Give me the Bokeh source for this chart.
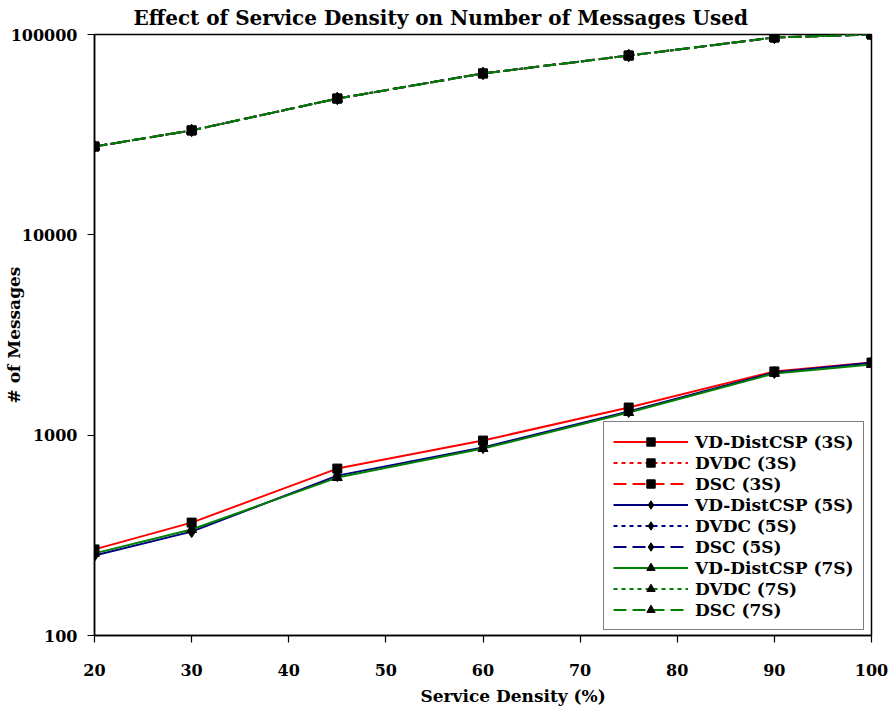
from bokeh.plotting import figure
from bokeh.models import (ColumnDataSource, Legend, LegendItem, FixedTicker,
                          PrintfTickFormatter, Range1d, Title)
from bokeh.embed import file_html
from bokeh.resources import INLINE

density = [20, 30, 45, 60, 75, 90, 100]

vd_3s = [269, 366, 681, 940, 1374, 2080, 2303]
dvdc_3s = [27600, 33200, 47900, 63900, 78500, 96600, 100000]
dsc_3s = [27600, 33200, 47900, 63900, 78500, 96600, 100000]

vd_5s = [251, 330, 628, 867, 1313, 2055, 2300]
dvdc_5s = [27600, 33200, 47900, 63900, 78500, 96600, 100000]
dsc_5s = [27600, 33200, 47900, 63900, 78500, 96600, 100000]

vd_7s = [257, 338, 614, 857, 1297, 2032, 2250]
dvdc_7s = [27600, 33200, 47900, 63900, 78500, 96600, 100000]
dsc_7s = [27600, 33200, 47900, 63900, 78500, 96600, 100000]

y_ticks = [100, 1000, 10000, 100000]
x_ticks = [20, 30, 40, 50, 60, 70, 80, 90, 100]

FONT = "DejaVu Serif"

p = figure(width=890, height=719, y_axis_type="log", output_backend="svg",
           toolbar_location=None, x_range=Range1d(20, 100),
           y_range=Range1d(100, 100000),
           title="Effect of Service Density on Number of Messages Used",
           min_border_left=94, min_border_right=19, min_border_bottom=84,
           min_border_top=34)

p.title.align = "left"
p.title.offset = 39
p.title.text_font = FONT
p.title.text_font_size = "20px"
p.title.text_font_style = "bold"
p.title.text_color = "black"
p.title.vertical_align = "top"
p.title.standoff = 6

p.xgrid.visible = False
p.ygrid.visible = False
p.outline_line_color = "black"
p.outline_line_width = 1.5

p.xaxis.ticker = FixedTicker(ticks=x_ticks)
p.yaxis.ticker = FixedTicker(ticks=y_ticks, minor_ticks=[])
p.yaxis.formatter = PrintfTickFormatter(format="%d")
for ax in (p.xaxis, p.yaxis):
    ax.axis_line_color = "black"
    ax.axis_line_width = 1.5
    ax.major_tick_line_color = "black"
    ax.major_tick_line_width = 1.2
    ax.major_tick_in = 0
    ax.major_tick_out = 7
    ax.minor_tick_line_color = None
    ax.major_label_text_font = FONT
    ax.major_label_text_font_style = "bold"
    ax.major_label_text_font_size = "16px"
    ax.major_label_text_color = "black"
    ax.axis_label_text_font = FONT
    ax.axis_label_text_font_style = "bold"
    ax.axis_label_text_font_size = "17px"
    ax.axis_label_text_color = "black"
p.yaxis.axis_label = "# of Messages"
p.xaxis.major_label_standoff = 21
p.yaxis.major_label_standoff = 10
p.yaxis.axis_label_standoff = -16

xlabel = Title(text="Service Density (%)", align="left", offset=326,
               vertical_align="top", standoff=14, text_font=FONT,
               text_font_size="17px", text_font_style="bold",
               text_color="black")
p.add_layout(xlabel, "below")

RED = "#ff0000"
BLUE = "#000080"
GREEN = "#008000"
SOLID = "solid"
DOT = "4 4"
DASH = "13 6"

series = [
    ("VD-DistCSP (3S)", vd_3s, RED, SOLID, "square"),
    ("DVDC (3S)", dvdc_3s, RED, DOT, "square"),
    ("DSC (3S)", dsc_3s, RED, DASH, "square"),
    ("VD-DistCSP (5S)", vd_5s, BLUE, SOLID, "diamond"),
    ("DVDC (5S)", dvdc_5s, BLUE, DOT, "diamond"),
    ("DSC (5S)", dsc_5s, BLUE, DASH, "diamond"),
    ("VD-DistCSP (7S)", vd_7s, GREEN, SOLID, "triangle"),
    ("DVDC (7S)", dvdc_7s, GREEN, DOT, "triangle"),
    ("DSC (7S)", dsc_7s, GREEN, DASH, "triangle"),
]
sizes = {"square": 9, "diamond": 12, "triangle": 10}

lines = []
srcs = []
for label, vals, color, dash, marker in series:
    src = ColumnDataSource(dict(x=density, y=vals))
    srcs.append(src)
    r = p.line("x", "y", source=src, line_color=color, line_width=2,
               line_dash=dash)
    lines.append(r)

markers = [None] * len(series)
order = [6, 7, 8, 3, 4, 5, 0, 1, 2]
for i in order:
    label, vals, color, dash, marker = series[i]
    m = p.scatter("x", "y", source=srcs[i], marker=marker,
                  size=sizes[marker], fill_color="black", line_color="black")
    markers[i] = m

items = [LegendItem(label=s[0], renderers=[lines[i], markers[i]])
         for i, s in enumerate(series)]
legend = Legend(items=items, location=(509, 5))
legend.label_text_font = FONT
legend.label_text_font_style = "bold"
legend.label_text_font_size = "17px"
legend.label_text_color = "black"
legend.glyph_width = 75
legend.glyph_height = 21
legend.label_height = 21
legend.spacing = 0
legend.padding = 9
legend.margin = 0
legend.border_line_color = "black"
legend.border_line_width = 1.5
legend.background_fill_alpha = 1.0
legend.label_standoff = 7
p.add_layout(legend, "center")

open("out.html", "w").write(file_html(p, INLINE))
